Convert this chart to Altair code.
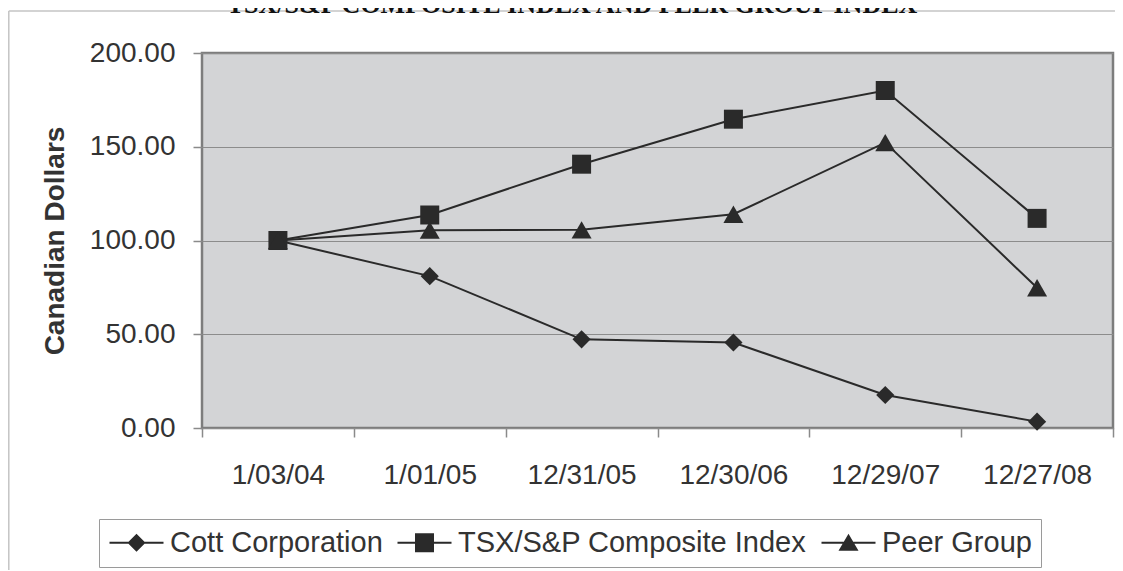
import altair as alt
import pandas as pd

TITLE = "TSX/S&P COMPOSITE INDEX AND PEER GROUP INDEX"
Y_TITLE = "Canadian Dollars"
dates = ["1/03/04", "1/01/05", "12/31/05", "12/30/06", "12/29/07", "12/27/08"]
series_names = ["Cott Corporation", "TSX/S&P Composite Index", "Peer Group"]
cott = [100.0, 81.0, 47.3, 45.6, 17.6, 3.4]
tsx = [100.0, 113.6, 140.7, 164.7, 180.0, 111.8]
peer = [100.0, 105.5, 105.7, 114.0, 152.2, 74.8]
y_ticks = [0, 50, 100, 150, 200]

shapes = ["diamond", "square", "triangle-up"]
marker_sizes = [330, 361, 400]
# legend glyphs "—◆—", "—■—", "—▲—" (line drawn as a thin filled bar), shifted right
BAR = "M-1.3,-0.1L4.1,-0.1L4.1,0.1L-1.3,0.1Z"
legend_paths = [
    BAR + "M0.5,0L1.4,-0.9L2.3,0L1.4,0.9Z",
    BAR + "M0.45,-0.95L2.35,-0.95L2.35,0.95L0.45,0.95Z",
    BAR + "M1.4,-0.9L2.4,0.8L0.4,0.8Z",
]

rows = []
for name, vals in zip(series_names, [cott, tsx, peer]):
    for d, v in zip(dates, vals):
        rows.append({"date": d, "series": name, "value": v})
df = pd.DataFrame(rows)

INK = "#2a2a2a"
TXT = "#333333"
FONT = "Liberation Sans"

x_enc = alt.X(
    "date:N",
    sort=dates,
    title=None,
    bandPosition=0.5,
    scale=alt.Scale(type="band", paddingInner=0, paddingOuter=0),
    axis=alt.Axis(
        tickBand="extent",
        labelAngle=0,
        labelFont=FONT,
        labelFontSize=28,
        labelColor=TXT,
        labelPadding=24,
        tickSize=9,
        tickColor="#8a8a8a",
        tickWidth=1.5,
        domain=False,
        grid=False,
    ),
)
y_enc = alt.Y(
    "value:Q",
    title=Y_TITLE,
    scale=alt.Scale(domain=[0, 200], nice=False),
    axis=alt.Axis(
        values=y_ticks,
        format=".2f",
        labelFont=FONT,
        labelFontSize=28,
        labelColor=TXT,
        labelPadding=18,
        tickSize=9,
        tickColor="#8a8a8a",
        tickWidth=1.5,
        domain=False,
        grid=True,
        gridColor="#8c8c8c",
        gridWidth=1,
        titleFont=FONT,
        titleFontSize=28,
        titleFontWeight="bold",
        titleColor=TXT,
        titleX=-147,
        titleY=187.5,
        titleAngle=-90,
        titleAlign="center",
        titleBaseline="middle",
    ),
)

base = alt.Chart(df)

lines = base.mark_line(color=INK, strokeWidth=2).encode(
    x=x_enc, y=y_enc, detail="series:N"
)

point_layers = [
    base.transform_filter(alt.datum.series == name)
    .mark_point(filled=True, size=sz, shape=shp, color=INK, opacity=1)
    .encode(x=x_enc, y=y_enc)
    for name, shp, sz in zip(series_names, shapes, marker_sizes)
]

# layer placed outside the plot (clipped) that only feeds the legend
legend_layer = base.mark_point(
    filled=True, size=400, color=INK, opacity=1, clip=True
).encode(
    x=x_enc,
    y=alt.value(-3000),
    shape=alt.Shape(
        "series:N",
        scale=alt.Scale(domain=series_names, range=legend_paths),
        legend=alt.Legend(
            title=None,
            orient="none",
            legendX=-103,
            legendY=466,
            direction="horizontal",
            labelFont=FONT,
            labelFontSize=29,
            labelColor=TXT,
            labelOffset=33,
            labelLimit=600,
            columnPadding=11,
            padding=9,
            strokeColor="#9a9a9a",
            symbolSize=400,
            symbolFillColor=INK,
            symbolOpacity=1,
        ),
    ),
)

one = alt.Data(values=[{"k": 1}])
frame_top = alt.Chart(one).mark_rule(color="#c4c4c4", strokeWidth=1.5).encode(
    x=alt.value(-193.2), x2=alt.value(1000), y=alt.value(-42)
)
frame_left = alt.Chart(one).mark_rule(color="#c4c4c4", strokeWidth=1.5).encode(
    x=alt.value(-193.2), y=alt.value(-42), y2=alt.value(700)
)

title = alt.Chart(one).mark_text(
    text=TITLE,
    font="Liberation Serif",
    fontSize=26,
    fontWeight="bold",
    align="center",
    baseline="alphabetic",
    color="#111111",
).encode(x=alt.value(370), y=alt.value(-40))

chart = (
    alt.layer(frame_top, frame_left, title, lines, *point_layers, legend_layer)
    .properties(
        width=911,
        height=375,
        autosize=alt.AutoSizeParams(type="none"),
        padding={"left": 194, "top": 45, "right": 2, "bottom": 142},
        background="white",
    )
    .configure_view(fill="#d3d4d6", stroke="#7d7d7d", strokeWidth=2.5)
)

chart.save("out.html", embed_options={"renderer": "svg", "actions": False})
